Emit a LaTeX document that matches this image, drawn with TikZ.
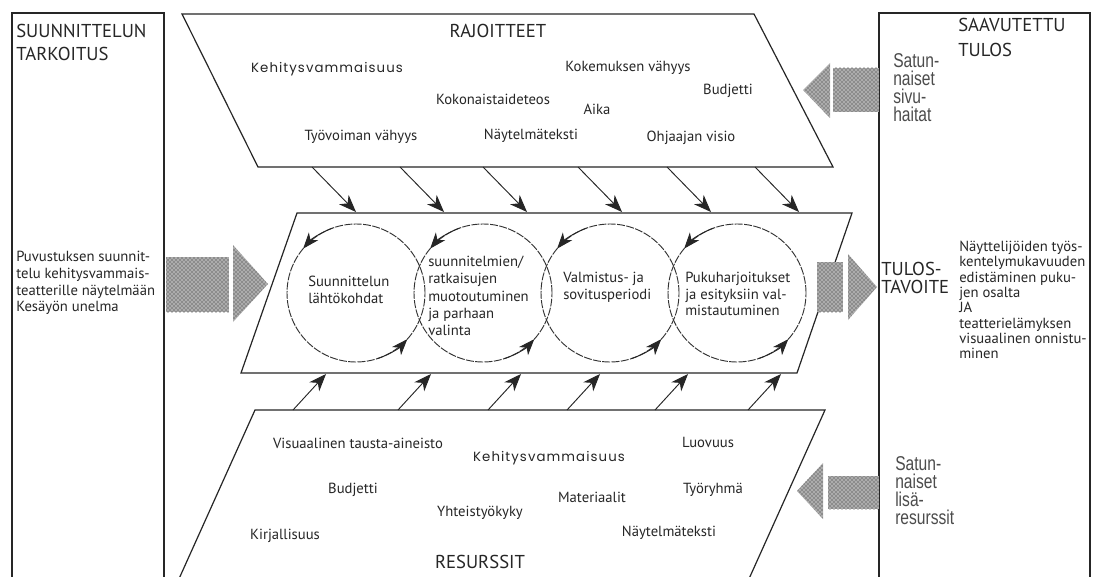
\documentclass[tikz,border=0pt]{standalone}
\usepackage{fontspec}
\setmainfont{PT Sans}
\newfontfamily\geofont[LetterSpace=8]{Poppins}
\newfontfamily\condfont[FakeStretch=0.78]{Liberation Sans}
\usetikzlibrary{arrows.meta,patterns}
\begin{document}
\begin{tikzpicture}[x=0.75pt,y=0.75pt,
  frame/.style={draw=black!85, line width=0.9pt},
  hatch/.style={preaction={fill=gray!65}, pattern=crosshatch dots, pattern color=black!85},
  inarrow/.style={draw=black!85, line width=0.7pt, -{Stealth[length=13pt,width=10pt,inset=4pt]}},
  cyc/.style={draw=black!80, line width=0.7pt, dash pattern=on 6pt off 1pt, circle, minimum size=103.5pt, inner sep=0pt},
  cycarrow/.style={draw=black!85, line width=0.7pt, -{Stealth[length=12pt,width=9pt,inset=3.5pt]}},
  txt/.style={inner sep=0pt, font=\fontsize{11}{12.5}\selectfont, text=black!85, align=left},
  head/.style={inner sep=0pt, font=\fontsize{14}{17}\selectfont, text=black!85, align=left},
  geo/.style={inner sep=0pt, font=\geofont\fontsize{10}{12}\selectfont, text=black!85},
  cond/.style={inner sep=0pt, font=\condfont\fontsize{15}{13.5}\selectfont, text=black!70, align=left}
]
\clip (0,0) rectangle (1098,576);
\fill[white] (0,0) rectangle (1098,576);

% side boxes
\draw[frame] (12,-5) rectangle (164,563);
\draw[frame] (879,-5) rectangle (1090,563);

% parallelograms
\coordinate (tTL) at (182,562); \coordinate (tTR) at (754,562);
\coordinate (tBR) at (833,409); \coordinate (tBL) at (258,409);
\draw[frame] (tTL) -- (tTR) -- (tBR) -- (tBL) -- cycle;
\coordinate (mTL) at (297,363); \coordinate (mTR) at (852,363);
\coordinate (mBR) at (797,203); \coordinate (mBL) at (241,203);
\draw[frame] (mTL) -- (mTR) -- (mBR) -- (mBL) -- cycle;
\coordinate (bTL) at (255,166); \coordinate (bTR) at (825,166);
\coordinate (bBR) at (748,-5); \coordinate (bBL) at (178,-5);
\draw[frame] (bBL) -- (bTL) -- (bTR) -- (bBR);

% constraint arrows (top)
\foreach \i/\x in {1/312,2/400,3/483,4/578,5/667,6/755}{
  \coordinate (ra\i) at (\x,409);
  \coordinate (rb\i) at (\x+44,364);
  \draw[inarrow] (ra\i) -- (rb\i);
}
% resource arrows (bottom)
\foreach \i/\x in {1/293,2/398,3/488,4/567,5/655,6/748}{
  \coordinate (sa\i) at (\x,166);
  \coordinate (sb\i) at (\x+33,202);
  \draw[inarrow] (sa\i) -- (sb\i);
}

% circles
\foreach \i/\x in {1/356,2/483,3/610,4/737}{
  \node[cyc] (c\i) at (\x,283) {};
  \draw[cycarrow] (c\i.center) ++(110:51.75pt) arc[start angle=110, end angle=140, radius=51.75pt];
  \draw[cycarrow] (c\i.center) ++(-72:51.75pt) arc[start angle=-72, end angle=-42, radius=51.75pt];
}

% hatched arrows
\path[hatch] (166,264) rectangle (229,319);
\path[hatch] (233,254) -- (268,292) -- (233,331) -- cycle;
\path[hatch] (817,264) rectangle (843,314);
\path[hatch] (848,256) -- (877,289) -- (848,322) -- cycle;
\path[hatch] (833,464) rectangle (879,508);
\path[hatch] (830,458) -- (803,486) -- (830,513) -- cycle;
\path[hatch] (828,67) rectangle (879,100);
\path[hatch] (823,57) -- (797,85) -- (823,113) -- cycle;

% left box text
\node[head, anchor=north west] (purpose) at (16,552) {SUUNNITTELUN\\TARKOITUS};
\node[txt, anchor=west] (purposetxt) at (16,293) {Puvustuksen suunnit-\\telu kehitysvammais-\\teatterille näytelmään\\Kesäyön unelma};

% top texts
\node[head] (rajo) at (498,545) {RAJOITTEET};
\node[geo] (t1) at (327,507) {Kehitysvammaisuus};
\node[txt] (t2) at (628,508) {Kokemuksen vähyys};
\node[txt] (t3) at (493,477) {Kokonaistaideteos};
\node[txt] (t4) at (597,467) {Aika};
\node[txt] (t5) at (728,485) {Budjetti};
\node[txt] (t6) at (361,439) {Työvoiman vähyys};
\node[txt] (t7) at (531,440) {Näytelmäteksti};
\node[txt] (t8) at (691,438) {Ohjaajan visio};

% circle texts
\node[txt, anchor=west] (p1) at (308,286) {Suunnittelun\\lähtökohdat};
\node[txt, anchor=west, font=\fontsize{11}{13}\selectfont] (p2) at (428,280) {suunnitelmien/\\ratkaisujen\\muotoutuminen\\ja parhaan\\valinta};
\node[txt, anchor=west] (p3) at (563,289) {Valmistus- ja\\sovitusperiodi};
\node[txt, anchor=west] (p4) at (685,282) {Pukuharjoitukset\\ja esityksiin val-\\mistautuminen};

% right box texts
\node[head, anchor=north west, font=\fontsize{14}{19}\selectfont] (result) at (958,558) {SAAVUTETTU\\TULOS};
\node[cond, anchor=north west] (side) at (893,523) {Satun-\\naiset\\sivu-\\haitat};
\node[head, anchor=west, font=\fontsize{14}{13.5}\selectfont] (goalh) at (881,298) {TULOS-\\TAVOITE};
\node[txt, anchor=west, font=\fontsize{11}{11.5}\selectfont] (goal) at (959,276) {Näyttelijöiden työs-\\kentelymukavuuden\\edistäminen puku-\\jen osalta\\JA\\teatterielämyksen\\visuaalinen onnistu-\\minen};
\node[cond, anchor=north west] (extra) at (895,120) {Satun-\\naiset\\lisä-\\resurssit};

% bottom texts
\node[txt] (b1) at (358,133) {Visuaalinen tausta-aineisto};
\node[geo] (b2) at (549,118) {Kehitysvammaisuus};
\node[txt] (b3) at (708,134) {Luovuus};
\node[txt] (b4) at (353,86) {Budjetti};
\node[txt] (b5) at (592,79) {Materiaalit};
\node[txt] (b6) at (713,86) {Työryhmä};
\node[txt] (b7) at (480,63) {Yhteistyökyky};
\node[txt] (b8) at (285,40) {Kirjallisuus};
\node[txt] (b9) at (669,43) {Näytelmäteksti};
\node[head] (res) at (480,14) {RESURSSIT};
\end{tikzpicture}
\end{document}
